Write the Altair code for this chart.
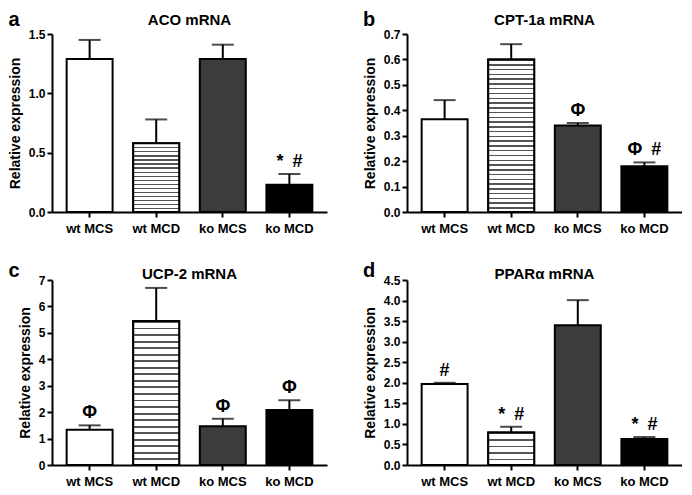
import altair as alt
import pandas as pd

groups = ["wt MCS", "wt MCD", "ko MCS", "ko MCD"]

aco_mean = [1.29, 0.58, 1.29, 0.23]
aco_top = [1.45, 0.78, 1.41, 0.32]
aco_marks = ["", "", "", "*\u2002#"]
aco_ticks = [0.0, 0.5, 1.0, 1.5]

cpt_mean = [0.365, 0.60, 0.34, 0.18]
cpt_top = [0.44, 0.66, 0.35, 0.195]
cpt_marks = ["", "", "Φ", "Φ\u2002#"]
cpt_ticks = [0.0, 0.1, 0.2, 0.3, 0.4, 0.5, 0.6, 0.7]

ucp_mean = [1.33, 5.45, 1.47, 2.08]
ucp_top = [1.50, 6.70, 1.75, 2.45]
ucp_marks = ["Φ", "", "Φ", "Φ"]
ucp_ticks = [0, 1, 2, 3, 4, 5, 6, 7]

ppar_mean = [1.97, 0.79, 3.40, 0.63]
ppar_top = [2.00, 0.93, 4.01, 0.68]
ppar_marks = ["#", "*\u2002#", "", "*\u2002#"]
ppar_ticks = [0.0, 0.5, 1.0, 1.5, 2.0, 2.5, 3.0, 3.5, 4.0, 4.5]

FONT = "Liberation Sans"


def stripes(n, frac=0.3, dark="#555555"):
    stops = []
    for i in range(n):
        a = i / n
        b = a + frac / n
        c = (i + 1) / n
        stops += [
            alt.GradientStop(offset=a, color=dark),
            alt.GradientStop(offset=b, color=dark),
            alt.GradientStop(offset=b, color="white"),
            alt.GradientStop(offset=min(c, 1.0), color="white"),
        ]
    return alt.LinearGradient(gradient="linear", x1=0, x2=0, y1=0, y2=1, stops=stops)


def panel(title, letter, means, tops, marks, ticks, fmt, n_stripes, w, h,
          title_y, letter_y):
    df = pd.DataFrame({"group": groups, "mean": means, "top": tops, "mark": marks})
    base = alt.Chart(df)
    x = alt.X("group:N", sort=groups, title=None,
              scale=alt.Scale(paddingInner=0.31, paddingOuter=0.22),
              axis=alt.Axis(labelAngle=0, labelFontSize=13, labelPadding=5))
    yscale = alt.Scale(domain=[ticks[0], ticks[-1]], nice=False)
    yaxis = alt.Axis(values=ticks, format=fmt, labelFontSize=12,
                     labelOverlap=False, labelPadding=2, titlePadding=6,
                     titleFontSize=14)

    def Y(field):
        return alt.Y(field, title="Relative expression", scale=yscale, axis=yaxis)

    bars = base.mark_bar(stroke="black", strokeWidth=2).encode(
        x=x, y=Y("mean:Q"),
        fill=alt.Fill("group:N", legend=None,
                      scale=alt.Scale(domain=groups,
                                      range=["white", "white", "#3c3c3c", "black"])))
    striped = base.transform_filter(alt.datum.group == "wt MCD").mark_bar(
        fill=stripes(n_stripes), stroke="black", strokeWidth=2).encode(x=x, y=Y("mean:Q"))
    err = base.mark_rule(color="black", strokeWidth=2).encode(
        x=x, y=Y("mean:Q"), y2="top:Q")
    cap = base.mark_tick(color="black", thickness=2, size=22).encode(x=x, y=Y("top:Q"))
    txt = base.mark_text(font=FONT, fontSize=18, fontWeight="bold", color="black",
                         baseline="bottom", dy=-3).encode(x=x, y=Y("top:Q"), text="mark:N")
    heads = alt.Chart(pd.DataFrame({"l": [letter], "t": [title]}))
    lab = heads.mark_text(
        font=FONT, fontSize=20, fontWeight="bold", color="black",
        align="center", baseline="middle").encode(
        x=alt.value(-38), y=alt.value(letter_y), text="l:N")
    ttl = heads.mark_text(
        font=FONT, fontSize=15, fontWeight="bold", color="black",
        align="center", baseline="middle").encode(
        x=alt.value(w / 2), y=alt.value(title_y), text="t:N")
    return alt.layer(bars, striped, err, cap, txt, lab, ttl).properties(width=w, height=h)


pa = panel("ACO mRNA", "a", aco_mean, aco_top, aco_marks, aco_ticks, ".1f", 17,
           275, 178, -14, -14)
pb = panel("CPT-1a mRNA", "b", cpt_mean, cpt_top, cpt_marks, cpt_ticks, ".1f", 32,
           275, 178, -14, -14)
pc = panel("UCP-2 mRNA", "c", ucp_mean, ucp_top, ucp_marks, ucp_ticks, "d", 22,
           275, 185, -6, -9)
pd_ = panel("PPARα mRNA", "d", ppar_mean, ppar_top, ppar_marks, ppar_ticks, ".1f", 5,
            275, 185, -6, -9)

chart = alt.concat(pa, pb, pc, pd_, columns=2,
                   spacing=alt.RowColnumber(row=26, column=35)).properties(
    padding={"left": 0, "top": 2, "right": 0, "bottom": 0}
).configure_axis(
    domainColor="black", domainWidth=2, tickColor="black", tickWidth=2, tickSize=5,
    labelFont=FONT, labelFontWeight="bold", labelColor="black",
    titleFont=FONT, titleFontWeight="bold", titleColor="black", grid=False
).configure_view(stroke=None)

chart.save("out.html", embed_options={"renderer": "svg", "actions": False})
